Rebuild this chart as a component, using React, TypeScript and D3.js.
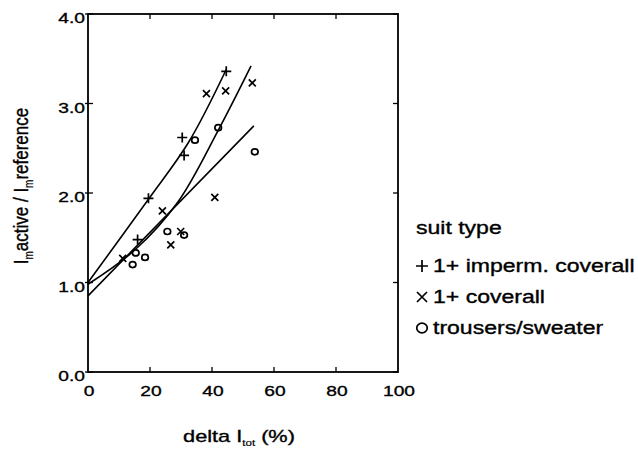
import { useEffect, useRef } from 'react';
import * as d3 from 'd3';

// scatter points [delta I_tot %, ratio]
const impermCoverall: [number, number][] = [
  [44.6, 3.36], [30.4, 2.62], [31.0, 2.42], [19.5, 1.94], [16.0, 1.48],
];
const coverall: [number, number][] = [
  [38.2, 3.11], [44.4, 3.14], [53.0, 3.23], [40.9, 1.95],
  [24.0, 1.80], [26.7, 1.42], [29.9, 1.57], [11.2, 1.27],
];
const trousers: [number, number][] = [
  [42.0, 2.73], [34.5, 2.59], [53.8, 2.46], [25.6, 1.57],
  [31.0, 1.53], [18.4, 1.28], [14.4, 1.20], [15.4, 1.33],
];

// fitted curves
const fitImperm: [number, number][] = [[0, 1.0], [19.5, 1.93], [32.5, 2.57], [44.6, 3.38]];
const fitCoverall: [number, number][] = [[0, 0.98], [15, 1.36], [29, 1.90], [42, 2.70], [52.6, 3.42]];
const fitTrousers: [number, number][] = [[0, 0.85], [53.5, 2.75]];

const xTicks = [0, 20, 40, 60, 80, 100];
const yTicks = [0, 1, 2, 3, 4];
const legendLabels = ['1+ imperm. coverall', '1+ coverall', 'trousers/sweater'];

const FONT = 'Liberation Sans, Arial, sans-serif';
const STRETCH = 1.28; // the scan is wider than it is tall

const App = () => {
  const ref = useRef<SVGSVGElement>(null);

  useEffect(() => {
    const svg = d3.select(ref.current);
    svg.selectAll('*').remove();

    const x = d3.scaleLinear().domain([0, 100]).range([88, 398]);
    const y = d3.scaleLinear().domain([0, 4]).range([372, 14]);

    const g = svg.append('g');

    // stretched text helper
    const label = (tx: number, ty: number, size: number, anchor: string) =>
      g.append('g').attr('transform', `translate(${tx},${ty}) scale(${STRETCH},1)`)
        .append('text')
        .attr('text-anchor', anchor)
        .attr('font-family', FONT).attr('font-size', size)
        .attr('stroke', '#000').attr('stroke-width', 0.35);

    // frame
    g.append('rect')
      .attr('x', x(0)).attr('y', y(4))
      .attr('width', x(100) - x(0)).attr('height', y(0) - y(4))
      .attr('fill', 'none').attr('stroke', '#000').attr('stroke-width', 1.8);

    // ticks, pointing inward on all four sides
    const tk = 5;
    xTicks.slice(1, -1).forEach(t => {
      g.append('line').attr('x1', x(t)).attr('x2', x(t)).attr('y1', y(0)).attr('y2', y(0) - tk)
        .attr('stroke', '#000').attr('stroke-width', 1.3);
      g.append('line').attr('x1', x(t)).attr('x2', x(t)).attr('y1', y(4)).attr('y2', y(4) + tk)
        .attr('stroke', '#000').attr('stroke-width', 1.3);
    });
    yTicks.forEach(t => {
      g.append('line').attr('x1', x(0) - 3).attr('x2', x(0) + tk).attr('y1', y(t)).attr('y2', y(t))
        .attr('stroke', '#000').attr('stroke-width', 1.3);
      g.append('line').attr('x1', x(100)).attr('x2', x(100) - tk).attr('y1', y(t)).attr('y2', y(t))
        .attr('stroke', '#000').attr('stroke-width', 1.3);
    });

    // tick labels
    xTicks.forEach(t => label(x(t) + 1, y(0) + 24, 15, 'middle').text(String(t)));
    yTicks.forEach(t => label(x(0) - 3, y(t) + 9, 15, 'end').text(t.toFixed(1)));

    // fit curves
    const line = d3.line<[number, number]>()
      .x(d => x(d[0])).y(d => y(d[1]))
      .curve(d3.curveCatmullRom.alpha(0.5));
    [fitImperm, fitCoverall, fitTrousers].forEach(f => {
      g.append('path').attr('d', line(f)).attr('fill', 'none')
        .attr('stroke', '#000').attr('stroke-width', 1.6);
    });

    // markers
    const plus = (cx: number, cy: number, s: number) => {
      g.append('path').attr('d', `M${cx - s},${cy}H${cx + s}M${cx},${cy - s}V${cy + s}`)
        .attr('stroke', '#000').attr('stroke-width', 1.7).attr('fill', 'none');
    };
    const cross = (cx: number, cy: number, s: number) => {
      g.append('path')
        .attr('d', `M${cx - s},${cy - s}L${cx + s},${cy + s}M${cx - s},${cy + s}L${cx + s},${cy - s}`)
        .attr('stroke', '#000').attr('stroke-width', 1.7).attr('fill', 'none');
    };
    const circ = (cx: number, cy: number, r: number) => {
      g.append('ellipse').attr('cx', cx).attr('cy', cy).attr('rx', r * 1.1).attr('ry', r)
        .attr('stroke', '#000').attr('stroke-width', 1.7).attr('fill', 'none');
    };
    impermCoverall.forEach(d => plus(x(d[0]), y(d[1]), 5));
    coverall.forEach(d => cross(x(d[0]), y(d[1]), 3.5));
    trousers.forEach(d => circ(x(d[0]), y(d[1]), 3));

    // axis titles
    const xt = label(239, 442, 17, 'middle');
    xt.append('tspan').text('delta I');
    xt.append('tspan').attr('font-size', 9).attr('stroke-width', 0.2).attr('dy', 4).text('tot');
    xt.append('tspan').attr('dy', -4).text(' (%)');

    const yt = g.append('g').attr('transform', 'translate(28,186) rotate(-90) scale(1,1.2)')
      .append('text')
      .attr('text-anchor', 'middle').attr('font-family', FONT).attr('font-size', 17)
      .attr('stroke', '#000').attr('stroke-width', 0.35);
    yt.append('tspan').text('I');
    yt.append('tspan').attr('font-size', 10).attr('stroke-width', 0.2).attr('dy', 4).text('m');
    yt.append('tspan').attr('dy', -4).text('active / I');
    yt.append('tspan').attr('font-size', 10).attr('stroke-width', 0.2).attr('dy', 4).text('m');
    yt.append('tspan').attr('dy', -4).text('reference');

    // legend
    label(416, 234, 18, 'start').text('suit type');
    const ly = [266, 297, 328];
    plus(422, ly[0], 6);
    cross(422, ly[1], 5);
    circ(422, ly[2], 4.8);
    legendLabels.forEach((l, i) => label(433, ly[i] + 6, 18, 'start').text(l));
  }, []);

  return <svg ref={ref} width={638} height={450} style={{ display: 'block', position: 'absolute', left: 0, top: 0, background: '#fff' }} />;
};

export default App;
